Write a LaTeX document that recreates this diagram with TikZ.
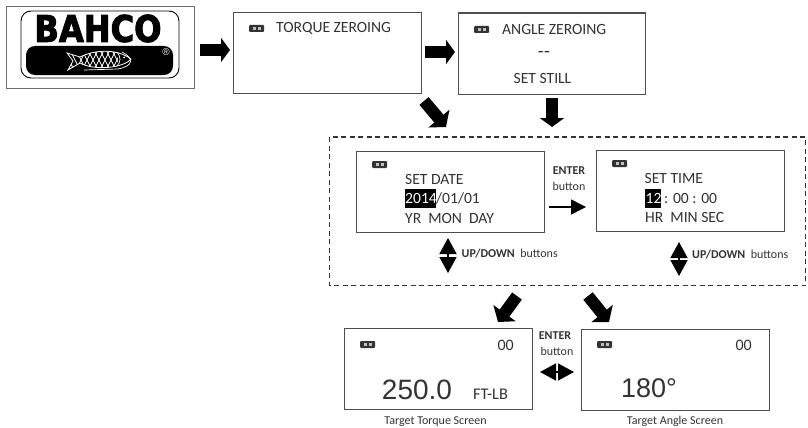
\documentclass[tikz,border=0pt]{standalone}
\usepackage{fontspec}
\usepackage{graphicx}
\setmainfont{Carlito}
\newfontfamily\arialf{Liberation Sans}
\newfontfamily\bahcof[FakeBold=3]{DejaVu Sans Bold}
\usetikzlibrary{arrows.meta}
\definecolor{ink}{HTML}{333333}
\definecolor{edge}{HTML}{4F4F4F}
\tikzset{
  x=1pt,y=-1pt,
  screen/.style={draw=edge,line width=1.4pt,fill=white,minimum width=188pt,minimum height=81pt,inner sep=0pt,anchor=north west},
  lcd/.style={text=ink,font=\fontsize{15.6}{16}\selectfont,inner sep=0pt},
  tiny/.style={text=ink,font=\fontsize{12}{12}\selectfont,inner sep=0pt},
  tinybold/.style={text=ink,font=\bfseries\fontsize{12}{12}\selectfont,inner sep=0pt},
  fatarrow/.style={line width=12pt,black,-{Triangle[length=9pt,width=24pt]}},
  fatarrowdiag/.style={line width=12pt,black,-{Triangle[length=11pt,width=27pt]}},
  thinarrow/.style={line width=1.5pt,black,-{Triangle[length=15pt,width=15pt]}},
  doublearrow/.style={line width=1.5pt,black,{Triangle[length=16pt,width=17pt]}-{Triangle[length=16pt,width=17pt]}},
}
\newcommand{\batt}[2]{%
  \fill[ink,rounded corners=1pt] (#1,#2) rectangle ++(15,7);
  \fill[gray!50] (#1+3.5,#2+2) rectangle ++(3,3);
  \fill[gray!50] (#1+8.5,#2+2) rectangle ++(3,3);
}
\begin{document}
\begin{tikzpicture}
\useasboundingbox (0,0) rectangle (808,428);
% logo
\node[draw=gray!85!black,line width=1.4pt,minimum width=188pt,minimum height=82pt,inner sep=0pt,anchor=north west] (logo) at (6,6) {};
\draw[black,line width=.9pt,rounded corners=10pt] (21,11) rectangle (179,78);
\fill[black,rounded corners=9pt] (26,46) rectangle (173,75);
\node[inner sep=0pt] (brand) at (98,28.5) {\resizebox{127pt}{27pt}{\bahcof BAHCO}};
\node[text=white,inner sep=0pt,font=\arialf\fontsize{10}{10}\selectfont] (reg) at (166,52.5) {®};
% fish
\begin{scope}
\path[clip] (67,53) -- (80,57) .. controls (94,50) and (116,48) .. (131,59) .. controls (124,68) and (94,71) .. (80,63) -- (68,70) -- (73,61) -- cycle;
\foreach \k in {0,...,14}{
  \draw[white,line width=.7pt] (62+\k*6,46) -- ++(13,26);
  \draw[white,line width=.7pt] (88+\k*6,46) -- ++(-13,26);
}
\fill[black] (118,48) rectangle (134,72);
\end{scope}
\draw[white,line width=.8pt] (67,53) -- (80,57) .. controls (94,50) and (116,48) .. (131,59) .. controls (124,68) and (94,71) .. (80,63) -- (68,70) -- (73,61) -- cycle;
\draw[white,line width=.7pt] (117,52) .. controls (121,57) and (121,62) .. (117,66);
\draw[white,line width=.7pt] (122,52) .. controls (134,58) and (134,66) .. (118,69) -- (84,70);
\fill[white] (124,57.5) circle (1pt);
% top row
\node[screen] (torque) at (232.5,12) {};
\node[screen,minimum width=187pt] (angle) at (458,12.5) {};
\batt{249}{25}
\node[lcd,anchor=west] (torquetxt) at (276,28) {TORQUE ZEROING};
\batt{474}{26}
\node[lcd,anchor=west] (angletxt) at (502,29) {ANGLE ZEROING};
\node[lcd,font=\fontsize{19}{19}\selectfont] (angledash) at (544,54) {-\kern.5pt-};
\node[lcd] (anglestill) at (542.5,78) {SET STILL};
% dashed frame
\draw[ink,line width=1.1pt,dash pattern=on 5pt off 3.5pt] (329.5,137) rectangle (805.5,285.5);
% date/time
\node[screen] (date) at (356,150.5) {};
\batt{372}{161}
\node[lcd,anchor=west] (d1) at (405,179.5) {SET DATE};
\node[anchor=west,fill=black,minimum width=31pt,minimum height=19pt,inner sep=0pt] (d2bg) at (405,198.5) {};
\node[lcd,anchor=west,text=white] (d2a) at (405,198.5) {2014};
\node[lcd,anchor=west] (d2b) at (436,198.5) {/01/01};
\node[lcd,anchor=west] (d3) at (405,218) {YR\ \ MON\ \ DAY};
\node[screen] (time) at (596,150) {};
\batt{612}{160}
\node[lcd,anchor=west] (t1) at (644.5,178.5) {SET TIME};
\node[anchor=west,fill=black,minimum width=15.5pt,minimum height=19pt,inner sep=0pt] (t2bg) at (645,198.5) {};
\node[lcd,anchor=west,text=white] (t2a) at (645.5,198.5) {12};
\node[lcd,anchor=west] (t2b) at (664,198.5) {: 00 : 00};
\node[lcd,anchor=west] (t3) at (645,217.5) {HR\ \ MIN SEC};
\node[tinybold] (enter1) at (569,171) {ENTER};
\node[tiny] (button1) at (569,186) {button};
\coordinate (ea) at (549,207);
\coordinate (eb) at (586,207);
\draw[thinarrow] (ea) -- (eb);
% up/down
\coordinate (ua) at (448,238);
\coordinate (ub) at (448,273);
\draw[doublearrow] (ua) -- (ub);
\node[tiny,anchor=west] (updown1) at (461.5,253.5) {\textbf{UP/DOWN}\ \ buttons};
\coordinate (va) at (679,242);
\coordinate (vb) at (679,276);
\draw[doublearrow] (va) -- (vb);
\node[tiny,anchor=west] (updown2) at (692,254.5) {\textbf{UP/DOWN}\ \ buttons};
% bottom
\node[screen] (target) at (344,328) {};
\batt{360}{341}
\node[lcd,anchor=east,font=\fontsize{16}{16}\selectfont] (t00) at (514,345) {00};
\node[inner sep=0pt,text=ink,font=\arialf\fontsize{28}{28}\selectfont] (val) at (417,390) {250.0};
\node[lcd,font=\fontsize{16.3}{16}\selectfont] (unit) at (490.5,394) {FT-LB};
\node[tiny] (cap1) at (435.5,422) {Target Torque Screen};
\node[screen] (tangle) at (581,329) {};
\batt{597}{341}
\node[lcd,anchor=east,font=\fontsize{16}{16}\selectfont] (a00) at (752,345) {00};
\node[inner sep=0pt,text=ink,font=\arialf\fontsize{27}{27}\selectfont] (aval) at (649,388) {180°};
\node[tiny] (cap2) at (675,421) {Target Angle Screen};
\node[tinybold] (enter2) at (555,336) {ENTER};
\node[tiny] (button2) at (557,351) {button};
\coordinate (ha) at (540,372);
\coordinate (hb) at (574,372);
\draw[doublearrow] (ha) -- (hb);
% fat arrows
\coordinate (a1) at (200,50); \coordinate (a2) at (230,50);
\draw[fatarrow] (a1) -- (a2);
\coordinate (b1) at (425,52); \coordinate (b2) at (455,52);
\draw[fatarrow] (b1) -- (b2);
\coordinate (c1) at (424,101); \coordinate (c2) at (446,127);
\draw[fatarrowdiag] (c1) -- (c2);
\coordinate (d1) at (552,98); \coordinate (d2) at (552,127);
\draw[fatarrow] (d1) -- (d2);
\coordinate (e1) at (517,296); \coordinate (e2) at (498,322);
\draw[fatarrowdiag] (e1) -- (e2);
\coordinate (f1) at (588,296); \coordinate (f2) at (609,322);
\draw[fatarrowdiag] (f1) -- (f2);
\end{tikzpicture}
\end{document}
